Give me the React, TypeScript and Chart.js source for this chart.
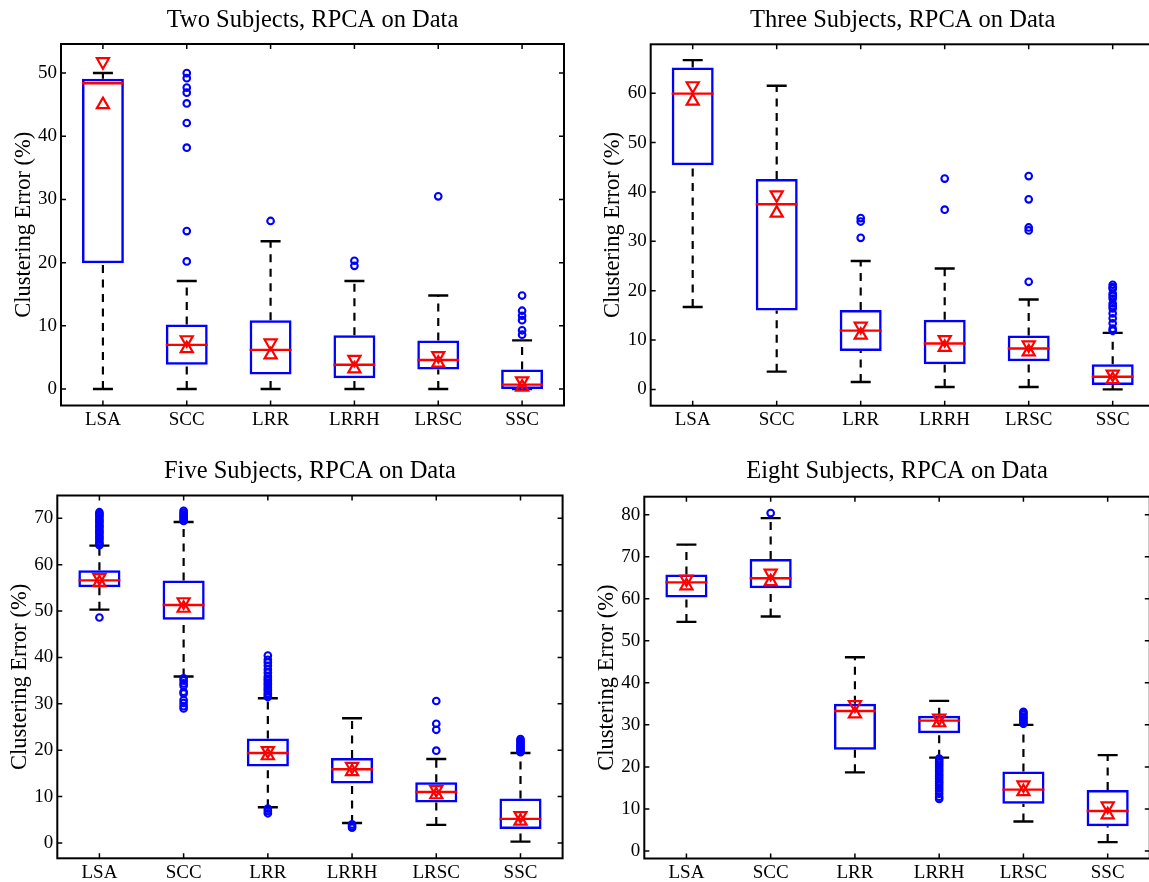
import React, { useEffect, useRef } from 'react';
import { Chart, registerables } from 'chart.js';

Chart.register(...registerables);

// ---------------- data ----------------
const methods = ['LSA', 'SCC', 'LRR', 'LRRH', 'LRSC', 'SSC'];
const yAxisTitle = 'Clustering Error (%)';

// Two subjects
const twoTitle = 'Two Subjects, RPCA on Data';
const twoTicks = [0, 10, 20, 30, 40, 50];
const twoRange = [-2.6, 54.6];
const twoLowerWhisker = [0, 0, 0, 0, 0, 0];
const twoQ1 = [19.9, 3.85, 2.3, 1.7, 3.1, 0.0];
const twoMedian = [48.4, 7.0, 6.2, 3.85, 4.6, 0.7];
const twoQ3 = [49.1, 10.2, 10.9, 8.5, 7.7, 3.1];
const twoUpperWhisker = [50.0, 17.1, 23.4, 17.1, 14.8, 7.7];
const twoNotchLow = [45.0, 6.4, 5.4, 3.2, 4.1, 0.3];
const twoNotchHigh = [51.8, 7.8, 7.3, 4.7, 5.3, 1.3];
const twoOutliers = [
  [],
  [50.0, 49.2, 47.7, 46.9, 45.2, 42.1, 38.2, 25.0, 20.2],
  [26.6],
  [20.3, 19.5],
  [30.5],
  [14.8, 12.4, 11.6, 10.9, 9.3, 8.6],
];

// Three subjects
const threeTitle = 'Three Subjects, RPCA on Data';
const threeTicks = [0, 10, 20, 30, 40, 50, 60];
const threeRange = [-3.3, 69.9];
const threeLowerWhisker = [16.7, 3.6, 1.5, 0.5, 0.5, 0];
const threeQ1 = [45.4, 16.0, 7.8, 5.1, 5.7, 0.9];
const threeMedian = [59.9, 37.5, 11.9, 9.3, 8.3, 2.55];
const threeQ3 = [65.2, 42.6, 16.1, 14.1, 10.9, 5.1];
const threeUpperWhisker = [66.7, 61.5, 26.0, 24.5, 18.2, 11.45];
const threeNotchLow = [58.4, 35.7, 11.0, 8.5, 7.6, 2.0];
const threeNotchHigh = [61.5, 39.4, 12.8, 10.1, 9.0, 3.1];
const threeOutliers = [
  [],
  [],
  [34.7, 34.0, 30.7],
  [42.7, 36.4],
  [43.2, 38.5, 32.8, 32.2, 21.8],
  [21.2, 20.7, 20.4, 19.4, 18.9, 18.4, 17.4, 16.9, 16.4, 15.4, 14.4, 13.4, 12.3, 11.9],
];

// Five subjects
const fiveTitle = 'Five Subjects, RPCA on Data';
const fiveTicks = [0, 10, 20, 30, 40, 50, 60, 70];
const fiveRange = [-3.3, 74.9];
const fiveLowerWhisker = [50.3, 35.9, 7.7, 4.3, 3.9, 0.3];
const fiveQ1 = [55.1, 48.1, 16.5, 12.8, 8.75, 3.0];
const fiveMedian = [56.6, 51.3, 19.4, 15.9, 11.0, 5.2];
const fiveQ3 = [58.8, 56.6, 22.5, 18.3, 13.1, 9.6];
const fiveUpperWhisker = [64.1, 69.2, 31.2, 26.9, 18.1, 19.4];
const fiveNotchLow = [56.1, 50.6, 18.8, 15.4, 10.4, 4.7];
const fiveNotchHigh = [57.2, 52.0, 19.9, 16.5, 11.5, 5.9];
const fiveOutliers = [
  [48.6, 64.2, 64.5, 64.9, 65.4, 65.8, 66.1, 66.6, 67.0, 67.3, 67.8, 68.2, 68.5, 69.0, 69.4, 69.7, 70.2, 70.6, 70.9, 71.3],
  [69.4, 69.8, 70.1, 70.5, 70.8, 71.2, 71.6, 35.5, 35.0, 34.4, 33.9, 32.6, 32.2, 30.8, 30.2, 29.5, 29.0],
  [31.5, 31.9, 32.3, 32.8, 33.2, 33.6, 34.1, 34.5, 35.0, 35.4, 35.9, 36.7, 37.4, 38.2, 38.9, 39.5, 40.4, 7.4, 6.9, 6.4],
  [4.0, 3.6, 3.3],
  [30.6, 25.7, 24.4, 19.9],
  [19.6, 19.9, 20.3, 20.6, 21.0, 21.3, 21.7, 22.0, 22.4],
];

// Eight subjects
const eightTitle = 'Eight Subjects, RPCA on Data';
const eightTicks = [0, 10, 20, 30, 40, 50, 60, 70, 80];
const eightRange = [-1.8, 84.3];
const eightLowerWhisker = [54.5, 55.8, 18.7, 22.2, 7.0, 2.1];
const eightQ1 = [60.3, 62.5, 24.1, 28.0, 11.2, 5.9];
const eightMedian = [63.9, 64.9, 33.3, 31.0, 14.6, 9.5];
const eightQ3 = [65.8, 69.5, 35.0, 32.2, 18.9, 14.5];
const eightUpperWhisker = [72.9, 79.2, 46.1, 35.7, 30.0, 22.8];
const eightNotchLow = [63.1, 64.1, 32.6, 30.5, 14.1, 8.6];
const eightNotchHigh = [64.7, 66.1, 34.8, 31.6, 15.7, 10.7];
const eightOutliers = [
  [],
  [80.4],
  [],
  [22.0, 21.5, 21.0, 20.5, 20.0, 19.4, 18.9, 18.3, 17.8, 17.2, 16.6, 16.1, 15.5, 14.9, 14.3, 13.6, 12.9, 12.4],
  [30.3, 30.7, 31.1, 31.5, 31.9, 32.4, 32.8, 33.1],
  [],
];

// ---------------- styling / layout ----------------
const FONT = "'Liberation Serif', 'Times New Roman', serif";
const BLUE = '#0000ff';
const RED = '#ff0000';
const BLACK = '#000000';
const TITLE_SIZE = 24.5;
const TICK_SIZE = 19;
const YTITLE_SIZE = 22.5;

type Panel = {
  title: string; ticks: number[]; range: number[];
  lo: number[]; q1: number[]; med: number[]; q3: number[]; hi: number[];
  nLo: number[]; nHi: number[]; out: number[][];
};

const panels: Panel[] = [
  { title: twoTitle, ticks: twoTicks, range: twoRange, lo: twoLowerWhisker, q1: twoQ1, med: twoMedian, q3: twoQ3, hi: twoUpperWhisker, nLo: twoNotchLow, nHi: twoNotchHigh, out: twoOutliers },
  { title: threeTitle, ticks: threeTicks, range: threeRange, lo: threeLowerWhisker, q1: threeQ1, med: threeMedian, q3: threeQ3, hi: threeUpperWhisker, nLo: threeNotchLow, nHi: threeNotchHigh, out: threeOutliers },
  { title: fiveTitle, ticks: fiveTicks, range: fiveRange, lo: fiveLowerWhisker, q1: fiveQ1, med: fiveMedian, q3: fiveQ3, hi: fiveUpperWhisker, nLo: fiveNotchLow, nHi: fiveNotchHigh, out: fiveOutliers },
  { title: eightTitle, ticks: eightTicks, range: eightRange, lo: eightLowerWhisker, q1: eightQ1, med: eightMedian, q3: eightQ3, hi: eightUpperWhisker, nLo: eightNotchLow, nHi: eightNotchHigh, out: eightOutliers },
];

type Frame = {
  x: number; y: number; w: number; h: number;
  left: number; top: number; right: number; bottom: number;
  titlePad: number; yTitlePad: number;
};

const frames: Frame[] = [
  { x: 0, y: 0, w: 575, h: 441, left: 61, top: 44, right: 564, bottom: 405.5, titlePad: 5.6, yTitlePad: 10.6 },
  { x: 575, y: 0, w: 580, h: 441, left: 650.7, top: 44.3, right: 1154.7, bottom: 405.7, titlePad: 5.6, yTitlePad: 24.8 },
  { x: 0, y: 441, w: 575, h: 441, left: 57.3, top: 495.5, right: 562.6, bottom: 858.3, titlePad: 16.3, yTitlePad: 6.9 },
  { x: 575, y: 441, w: 580, h: 441, left: 644.3, top: 496.7, right: 1149.8, bottom: 858.5, titlePad: 16.3, yTitlePad: 18.7 },
];

const matlabAxes = {
  id: 'matlabAxes',
  afterDatasetsDraw(chart: any) {
    const { ctx, chartArea } = chart;
    const { left, right, top, bottom } = chartArea;
    const xs = chart.scales.x;
    const ys = chart.scales.y;
    ctx.save();
    ctx.strokeStyle = BLACK;
    ctx.lineWidth = 1.5;
    ctx.beginPath();
    ys.ticks.forEach((t: any) => {
      const py = ys.getPixelForValue(t.value);
      ctx.moveTo(left, py); ctx.lineTo(left + 5, py);
      ctx.moveTo(right, py); ctx.lineTo(right - 5, py);
    });
    xs.ticks.forEach((_t: any, i: number) => {
      const px = xs.getPixelForTick(i);
      ctx.moveTo(px, bottom); ctx.lineTo(px, bottom - 5);
      ctx.moveTo(px, top); ctx.lineTo(px, top + 5);
    });
    ctx.stroke();
    ctx.lineWidth = 2;
    ctx.strokeRect(left, top, right - left, bottom - top);
    ctx.restore();
  },
};

function buildConfig(p: Panel, f: Frame): any {
  const boxData = methods.map((_, i) => [p.q1[i], p.q3[i]]);
  const whiskerData: any[] = [];
  methods.forEach((m, i) => {
    whiskerData.push({ x: m, y: p.q3[i] }, { x: m, y: p.hi[i] }, { x: m, y: null });
    whiskerData.push({ x: m, y: p.lo[i] }, { x: m, y: p.q1[i] }, { x: m, y: null });
  });
  const capData: any[] = [];
  methods.forEach((m, i) => { capData.push({ x: m, y: p.lo[i] }, { x: m, y: p.hi[i] }); });
  const medianData = methods.map((m, i) => ({ x: m, y: p.med[i] }));
  const outlierData: any[] = [];
  methods.forEach((m, i) => p.out[i].forEach((v) => outlierData.push({ x: m, y: v })));
  const notchHiData = methods.map((m, i) => ({ x: m, y: p.nHi[i] }));
  const notchLoData = methods.map((m, i) => ({ x: m, y: p.nLo[i] }));

  const titleLine = TITLE_SIZE * 1.2;
  const yWidth = f.left - f.x;
  const xHeight = f.y + f.h - f.bottom;
  const padRight = f.x + f.w - f.right;
  const titleBottom = f.top - f.y - titleLine - f.titlePad;

  const marker = (extra: any) => ({
    type: 'line', showLine: false, pointBackgroundColor: 'rgba(0,0,0,0)', ...extra,
  });

  return {
    type: 'bar',
    data: {
      labels: methods,
      datasets: [
        marker({ data: notchHiData, pointStyle: 'triangle', pointRotation: 180, pointRadius: 7, pointBorderColor: RED, pointBorderWidth: 2.2, order: 0 }),
        marker({ data: notchLoData, pointStyle: 'triangle', pointRotation: 0, pointRadius: 7, pointBorderColor: RED, pointBorderWidth: 2.2, order: 0 }),
        marker({ data: outlierData, pointStyle: 'circle', pointRadius: 3.3, pointBorderColor: BLUE, pointBorderWidth: 2.1, order: 1 }),
        marker({ data: medianData, pointStyle: 'line', pointRadius: 21, pointBorderColor: RED, pointBorderWidth: 2.4, order: 2 }),
        {
          type: 'bar', data: boxData, backgroundColor: 'rgba(0,0,0,0)', borderColor: BLUE, borderWidth: 2.5,
          borderSkipped: false, barPercentage: 0.5, categoryPercentage: 1, order: 3,
        },
        marker({ data: capData, pointStyle: 'line', pointRadius: 10, pointBorderColor: BLACK, pointBorderWidth: 2.4, order: 4 }),
        {
          type: 'line', data: whiskerData, borderColor: BLACK, borderWidth: 2.2, borderDash: [8, 6.5],
          pointRadius: 0, spanGaps: false, fill: false, order: 5,
        },
      ],
    },
    options: {
      animation: false,
      responsive: false,
      devicePixelRatio: 1,
      events: [],
      layout: { autoPadding: false, padding: { left: 0, top: 0, right: padRight, bottom: 0 } },
      plugins: {
        legend: { display: false },
        tooltip: { enabled: false },
        title: {
          display: true, text: p.title, color: BLACK, fullSize: false, align: 'center',
          font: { family: FONT, size: TITLE_SIZE, weight: 'normal', lineHeight: 1.2 },
          padding: { top: f.titlePad, bottom: titleBottom },
        },
      },
      scales: {
        x: {
          type: 'category', labels: methods, offset: true,
          grid: { display: false, drawTicks: false },
          border: { display: false },
          ticks: { color: BLACK, font: { family: FONT, size: TICK_SIZE }, padding: 3.3, maxRotation: 0, autoSkip: false },
          afterFit: (s: any) => { s.height = xHeight; },
        },
        y: {
          type: 'linear', min: p.range[0], max: p.range[1], bounds: 'data',
          grid: { display: false, drawTicks: false },
          border: { display: false },
          ticks: { color: BLACK, font: { family: FONT, size: TICK_SIZE }, padding: 4 },
          afterBuildTicks: (s: any) => { s.ticks = p.ticks.map((v) => ({ value: v })); },
          title: {
            display: true, text: yAxisTitle, color: BLACK,
            font: { family: FONT, size: YTITLE_SIZE, lineHeight: 1.2 },
            padding: { top: f.yTitlePad, bottom: 0 },
          },
          afterFit: (s: any) => { s.width = yWidth; },
        },
      },
    },
    plugins: [matlabAxes],
  };
}

function BoxPanel({ panel, frame }: { panel: Panel; frame: Frame }) {
  const ref = useRef<HTMLCanvasElement>(null);
  useEffect(() => {
    const chart = new Chart(ref.current as HTMLCanvasElement, buildConfig(panel, frame));
    return () => chart.destroy();
  }, [panel, frame]);
  return (
    <canvas
      ref={ref}
      width={frame.w}
      height={frame.h}
      style={{ position: 'absolute', left: frame.x, top: frame.y, width: frame.w, height: frame.h }}
    />
  );
}

export default function App() {
  return (
    <div style={{ position: 'fixed', left: 0, top: 0, width: 1149, height: 882, overflow: 'hidden', background: '#ffffff' }}>
      {panels.map((p, i) => (
        <BoxPanel key={i} panel={p} frame={frames[i]} />
      ))}
    </div>
  );
}
